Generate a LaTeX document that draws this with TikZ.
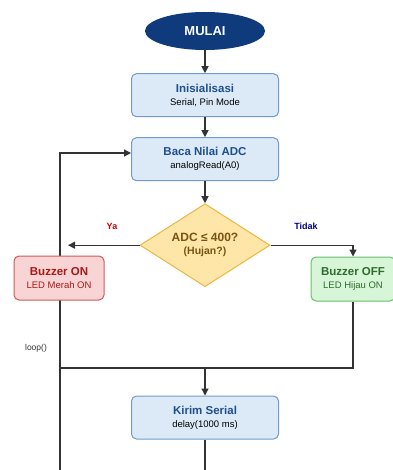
\documentclass[tikz,border=0pt]{standalone}
\usepackage{fontspec}
\setmainfont{Liberation Sans}
\usepackage{xcolor}
\usepackage{tikz}
\usetikzlibrary{shapes.geometric, arrows.meta, positioning, backgrounds, calc}
\definecolor{navyfill}{HTML}{0F3B7C}
\definecolor{bluefill}{HTML}{DCEAF7}
\definecolor{blueline}{HTML}{6E9CCF}
\definecolor{bluetext}{HTML}{1F4E8C}
\definecolor{yellowfill}{HTML}{FDE6A8}
\definecolor{yellowline}{HTML}{EDB640}
\definecolor{browntext}{HTML}{7A5312}
\definecolor{redfill}{HTML}{F9D4D4}
\definecolor{redline}{HTML}{CF5A5C}
\definecolor{redtext}{HTML}{A81818}
\definecolor{greenfill}{HTML}{D7F5D7}
\definecolor{greenline}{HTML}{6ABF6C}
\definecolor{greentext}{HTML}{2E6B2E}
\definecolor{wiregray}{HTML}{333333}
\tikzset{
  startnode/.style={ellipse, fill=navyfill, minimum width=120pt, minimum height=38pt, inner sep=0pt, text=white, font=\fontsize{13}{15}\selectfont\bfseries},
  procbox/.style={rectangle, draw=blueline, line width=1pt, fill=bluefill, minimum width=147pt, minimum height=43pt, align=center, rounded corners=5pt, font=\fontsize{9.5}{13}\selectfont},
  decbox/.style={diamond, draw=yellowline, line width=1pt, fill=yellowfill, minimum width=130pt, minimum height=83pt, aspect=1.57, inner sep=0pt, align=center, text=browntext},
  onbox/.style={rectangle, draw=redline, line width=1pt, fill=redfill, minimum width=90pt, minimum height=44pt, align=center, rounded corners=5pt, text=redtext, font=\fontsize{9.5}{13}\selectfont},
  offbox/.style={rectangle, draw=greenline, line width=1pt, fill=greenfill, minimum width=84pt, minimum height=44pt, align=center, rounded corners=5pt, text=greentext, font=\fontsize{9.5}{13}\selectfont},
  arr/.style={-{Triangle[length=7pt, width=7pt]}, line width=1.2pt, draw=wiregray},
  wire/.style={line width=1.2pt, draw=wiregray},
  branchlbl/.style={font=\fontsize{9}{11}\selectfont\bfseries},
}
\newcommand{\ttl}[1]{{\fontsize{11.5}{13}\selectfont\bfseries #1}}

\begin{document}
\begin{tikzpicture}[x=1pt, y=-1pt, node distance=20pt]
  \useasboundingbox (0,0) rectangle (392,470);

  % Nodes
  \node[startnode] (mulai) at (205,31) {MULAI};
  \node[procbox, below=23pt of mulai] (init) {\textcolor{bluetext}{\ttl{Inisialisasi}}\\Serial, Pin Mode};
  \node[procbox, below=20pt of init] (baca) {\textcolor{bluetext}{\ttl{Baca Nilai ADC}}\\analogRead(A0)};
  \node[decbox, below=22pt of baca] (cek) {{\fontsize{12}{14}\selectfont\bfseries ADC ≤ 400?}\\[1pt]{\fontsize{10.5}{12}\selectfont\bfseries (Hujan?)}};
  \node[onbox] (buzon) at (59,278) {\ttl{Buzzer ON}\\LED Merah ON};
  \node[offbox] (buzoff) at (353,279) {\ttl{Buzzer OFF}\\LED Hijau ON};
  \node[procbox] (kirim) at (205,417.5) {\textcolor{bluetext}{\ttl{Kirim Serial}}\\delay(1000 ms)};

  \coordinate (join) at (205,368);
  \coordinate (loopbot) at (60,470);
  \coordinate (looptop) at (60,153);
  \coordinate (yaend) at (68,241);
  \coordinate (kirimbot) at (205,470);

  % Labels
  \node[branchlbl, text=red!80!black] (ya) at (112,226) {Ya};
  \node[branchlbl, text=blue!50!black] (tidak) at (306,226) {Tidak};
  \node[font=\fontsize{8.5}{10}\selectfont, text=wiregray] (looplbl) at (36,348) {loop()};

  % Arrows
  \draw[arr] (mulai) -- (init);
  \draw[arr] (init) -- (baca);
  \draw[arr] (baca) -- (cek);
  \draw[arr] (cek.west) -- (cek.west -| yaend);
  \draw[arr] (cek.east) -- (cek.east -| buzoff) -- (buzoff);
  \draw[wire] (buzoff) -- (buzoff |- join) -- (join -| loopbot);
  \draw[arr] (join) -- (kirim);
  \draw[wire] (kirim) -- (kirimbot);
  \begin{scope}[on background layer]
    \fill[white] (0,0) rectangle (392,470);
    \draw[arr] (loopbot) -- (looptop) -- (looptop -| baca.west);
  \end{scope}
\end{tikzpicture}
\end{document}
